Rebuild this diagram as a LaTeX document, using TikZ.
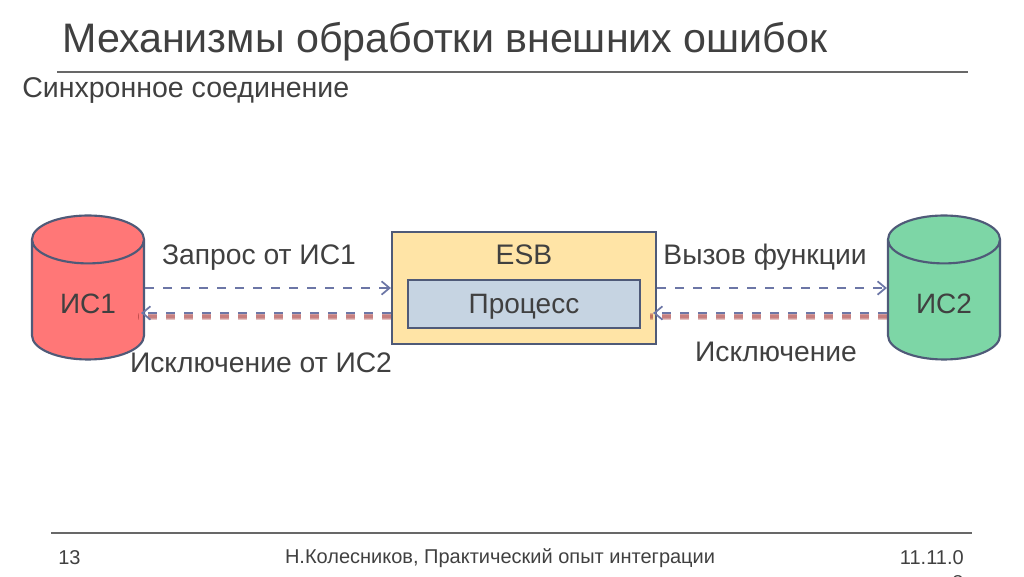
\documentclass[tikz,border=0pt]{standalone}
\usepackage{fontspec}
\setmainfont{Liberation Sans}
\usetikzlibrary{shapes.geometric, arrows.meta}
\definecolor{txt}{HTML}{404040}
\definecolor{edge}{HTML}{4F5A78}
\definecolor{flow}{HTML}{6C76A6}
\definecolor{rule}{HTML}{686868}
\definecolor{redbase}{HTML}{FF7777}
\definecolor{greenbase}{HTML}{7DD6A6}
\definecolor{esbfill}{HTML}{FFE4A6}
\definecolor{procfill}{HTML}{C6D4E2}
\definecolor{shade}{HTML}{A83C3C}
\tikzset{
  base/.style = {cylinder, shape border rotate=90, draw=edge, line width=1.6pt, aspect=0.857,
    minimum width=84pt, minimum height=108pt, inner sep=0pt, cylinder uses custom fill,
    text=txt, text depth=0pt, text height=19.5pt, font=\fontsize{21}{21}\selectfont},
  box/.style = {draw=edge, line width=1.6pt, inner sep=0pt, text=txt},
  lbl/.style = {text=txt, inner sep=0pt, font=\fontsize{21.2}{21.2}\selectfont},
  foot/.style = {text=txt, inner sep=0pt, font=\fontsize{15}{15}\selectfont},
  line/.style = {rule, line width=0.8pt},
  call/.style = {draw=flow, line width=1.6pt, dash pattern=on 6.8pt off 6.7pt, -{Straight Barb[length=6pt,width=10pt,line width=1.3pt]}},
  back/.style = {call, line width=2pt},
  glow/.style = {draw=shade, line width=#1, dash pattern=on 6.8pt off 6.7pt, opacity=0.3},
}
\begin{document}
\begin{tikzpicture}[x=0.75pt, y=-0.75pt]
  \useasboundingbox (0,0) rectangle (1024,576);

  \node[text=txt, inner sep=0pt, font=\fontsize{30.9}{30.9}\selectfont, anchor=west] (title) at (62,42) {Механизмы обработки внешних ошибок};
  \node[text=txt, inner sep=0pt, font=\fontsize{21.4}{21.4}\selectfont, anchor=west] (sub) at (22,90) {Синхронное соединение};
  \coordinate (top1) at (57,72);
  \coordinate (top2) at (968,72);
  \draw[line] (top1) -- (top2);

  \node[base, cylinder body fill=redbase, cylinder end fill=redbase] (is1) at (88,300) {ИС1};
  \node[base, cylinder body fill=greenbase, cylinder end fill=greenbase] (is2) at (944,300) {ИС2};

  \node[box, fill=esbfill, minimum width=198pt, minimum height=84pt] (esb) at (524,288) {};
  \node[box, fill=procfill, minimum width=174pt, minimum height=36pt, text depth=0pt, font=\fontsize{21}{21}\selectfont] (proc) at (524,304) {Процесс};
  \node[lbl] (esbname) at (524,255) {ESB};

  \node[lbl] (q1) at (259,258) {Запрос от ИС1};
  \node[lbl] (q2) at (261,363) {Исключение от ИС2};
  \node[lbl] (q3) at (765,257) {Вызов функции};
  \node[lbl] (q4) at (776,352) {Исключение};

  \coordinate (in1) at (is1.east |- esb.west);
  \coordinate (in2) at (is2.west |- esb.west);
  \coordinate[yshift=-18.75pt] (ret1) at (in1);
  \coordinate[yshift=-18.75pt] (ret2) at (in2);
  \coordinate[yshift=-18.75pt] (retw) at (esb.west);
  \coordinate[yshift=-18.75pt] (rete) at (esb.east);

  \draw[call] (in1) -- (esb.west);
  \draw[call] (esb.east) -- (in2);

  % red shadow under the return lines
  \foreach \w in {5pt, 3.5pt, 2pt} {
    \draw[glow=\w] ([yshift=-2.5pt]retw) -- ([xshift=-5.5pt,yshift=-2.5pt]ret1);
    \draw[glow=\w] ([yshift=-2.5pt]ret2) -- ([xshift=-5.5pt,yshift=-2.5pt]rete);
  }
  \draw[back] (retw) -- ([xshift=-3pt]ret1);
  \draw[back] (ret2) -- ([xshift=-3pt]rete);

  \coordinate (bot1) at (51,533);
  \coordinate (bot2) at (972,533);
  \draw[line] (bot1) -- (bot2);
  \node[foot, anchor=west] (num) at (58,558) {13};
  \node[foot] (who) at (500,558) {Н.Колесников, Практический опыт интеграции};
  \node[foot, anchor=east] (date) at (964,558) {11.11.0};
  \node[foot] (date2) at (958,583) {8};
\end{tikzpicture}
\end{document}
